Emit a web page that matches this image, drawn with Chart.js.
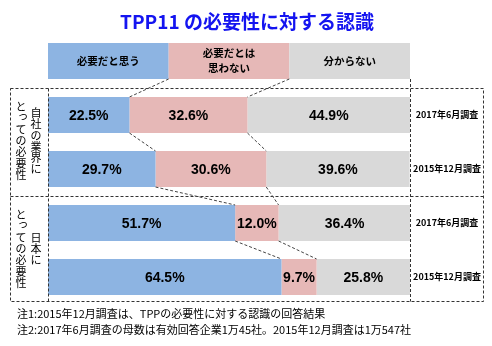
<!DOCTYPE html>
<html>
<head>
<meta charset="utf-8">
<script src="https://cdn.jsdelivr.net/npm/chart.js@4.4.1/dist/chart.umd.min.js"></script>
<style>
  html, body { margin: 0; padding: 0; background: #ffffff; }
  #wrap { position: relative; width: 492px; height: 346px; }
  canvas { display: block; }
</style>
</head>
<body>
<div id="wrap"><canvas id="c" width="492" height="346"></canvas></div>
<script>
// ---- data ----
const chartTitle = 'TPP11 の必要性に対する認識';
const categories = ['2017年6月調査', '2015年12月調査', '2017年6月調査', '2015年12月調査'];
const seriesNames = ['必要だと思う', '必要だとは\n思わない', '分からない'];
const needValues = [22.5, 29.7, 51.7, 64.5];
const notNeedValues = [32.6, 30.6, 12.0, 9.7];
const unknownValues = [44.9, 39.6, 36.4, 25.8];
const groupLabels = [['自社の業界に', 'とっての必要性'], ['日本に', 'とっての必要性']];
const footnotes = [
  '注1:2015年12月調査は、TPPの必要性に対する認識の回答結果',
  '注2:2017年6月調査の母数は有効回答企業1万45社。2015年12月調査は1万547社'
];

const colors = ['#8DB4E2', '#E6B8B7', '#D9D9D9'];
const JP = '"Noto Sans CJK JP", "Noto Sans", sans-serif';
const LAT = '"Liberation Sans", Arial, sans-serif';

function dashedLine(ctx, x1, y1, x2, y2) {
  ctx.beginPath();
  ctx.moveTo(x1, y1);
  ctx.lineTo(x2, y2);
  ctx.stroke();
}

const decor = {
  id: 'decor',
  afterDatasetsDraw(chart) {
    const ctx = chart.ctx;
    const xs = chart.scales.x;
    const ys = chart.scales.y;
    const n = categories.length;
    const metas = [0, 1, 2].map(i => chart.getDatasetMeta(i));
    const half = metas[0].data[0].height / 2;

    ctx.save();
    // Title
    ctx.fillStyle = '#1414F0';
    ctx.font = 'bold 19px ' + JP;
    ctx.textAlign = 'center';
    ctx.textBaseline = 'middle';
    ctx.fillText(chartTitle, 247, 22);

    // Header legend boxes
    const hTop = 43, hBot = 79;
    for (let i = 0; i < 3; i++) {
      const x0 = xs.getPixelForValue(i * 100 / 3);
      const x1 = xs.getPixelForValue((i + 1) * 100 / 3);
      ctx.fillStyle = colors[i];
      ctx.fillRect(x0, hTop, x1 - x0, hBot - hTop);
      ctx.fillStyle = '#000';
      ctx.font = 'bold 10.5px ' + JP;
      const lines = seriesNames[i].split('\n');
      const cx = (x0 + x1) / 2, cy = (hTop + hBot) / 2;
      lines.forEach((ln, k) => {
        ctx.fillText(ln, cx, cy + (k - (lines.length - 1) / 2) * 15);
      });
    }

    // Data labels
    ctx.font = 'bold 14px ' + LAT;
    ctx.fillStyle = '#000';
    metas.forEach((m, di) => {
      m.data.forEach((bar, j) => {
        const v = chart.data.datasets[di].data[j];
        const cx = (bar.x + bar.base) / 2;
        ctx.fillText(v.toFixed(1) + '%', cx, bar.y + 1);
      });
    });

    // Category labels on right
    ctx.font = 'bold 9px ' + JP;
    const rightX = (xs.right + 484) / 2;
    for (let j = 0; j < n; j++) {
      ctx.fillText(categories[j], rightX, ys.getPixelForValue(j));
    }

    // Dashed frame
    ctx.strokeStyle = '#333';
    ctx.lineWidth = 1;
    ctx.setLineDash([3, 2]);
    const top = chart.chartArea.top + 0.5;
    const bottom = 301.5;
    const left = 10.5, right = 483.5;
    const mid = Math.round((ys.getPixelForValue(1) + ys.getPixelForValue(2)) / 2) + 0.5;
    const xL = Math.round(xs.left) + 0.5;
    const xR = Math.round(xs.right) + 0.5;
    ctx.strokeRect(left, top, right - left, bottom - top);
    dashedLine(ctx, left, mid, right, mid);
    dashedLine(ctx, xL, top, xL, bottom);
    dashedLine(ctx, xR, hBot, xR, bottom);

    // Connector (series) lines
    ctx.strokeStyle = '#444';
    ctx.setLineDash([3, 2]);
    // from header to first row
    for (let di = 0; di < 2; di++) {
      const hx = xs.getPixelForValue((di + 1) * 100 / 3);
      const b = metas[di].data[0];
      dashedLine(ctx, hx, hBot, b.x, b.y - half);
    }
    for (let di = 0; di < 2; di++) {
      for (let j = 0; j < n - 1; j++) {
        const a = metas[di].data[j];
        const b = metas[di].data[j + 1];
        dashedLine(ctx, a.x, a.y + half, b.x, b.y - half);
      }
    }

    // Vertical group labels
    ctx.setLineDash([]);
    ctx.fillStyle = '#000';
    ctx.font = '11px ' + JP;
    const step = 11.3;
    const colX = [36, 21];
    groupLabels.forEach((cols, g) => {
      const cy = (ys.getPixelForValue(g * 2) + ys.getPixelForValue(g * 2 + 1)) / 2 - 1;
      cols.forEach((txt, c) => {
        const chars = Array.from(txt);
        const y0 = cy - (chars.length - 1) / 2 * step;
        chars.forEach((ch, k) => {
          let dx = 0, dy = 0;
          if (ch === 'っ') { dx = 2; dy = -3; }
          ctx.fillText(ch, colX[c] + dx, y0 + k * step + dy);
        });
      });
    });

    // Footnotes
    ctx.textAlign = 'left';
    ctx.font = '11px ' + JP;
    ctx.fillText(footnotes[0], 17, 314);
    ctx.fillText(footnotes[1], 17, 330);
    ctx.restore();
  }
};

new Chart(document.getElementById('c'), {
  type: 'bar',
  data: {
    labels: categories,
    datasets: [
      { label: seriesNames[0], data: needValues, backgroundColor: colors[0] },
      { label: seriesNames[1], data: notNeedValues, backgroundColor: colors[1] },
      { label: seriesNames[2], data: unknownValues, backgroundColor: colors[2] }
    ]
  },
  options: {
    indexAxis: 'y',
    responsive: false,
    animation: false,
    devicePixelRatio: 1,
    layout: { padding: { left: 48, right: 82, top: 88, bottom: 42 } },
    datasets: { bar: { categoryPercentage: 1, barPercentage: 0.667, borderWidth: 0 } },
    scales: {
      x: { stacked: true, min: 0, max: 100, display: false },
      y: { stacked: true, display: false }
    },
    plugins: {
      legend: { display: false },
      title: { display: false },
      tooltip: { enabled: false }
    }
  },
  plugins: [decor]
});
</script>
</body>
</html>
